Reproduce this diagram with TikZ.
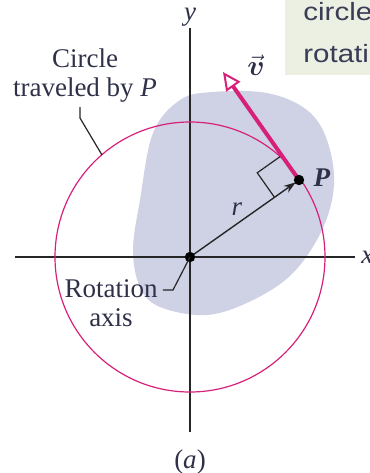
\documentclass[tikz,border=0pt]{standalone}
\usepackage{amsmath}
\usepackage{fontspec}
\setmainfont{Liberation Serif}
\newfontfamily\notefont{Liberation Sans}
\usetikzlibrary{arrows.meta,calc}
\definecolor{rim}{HTML}{D6207A}
\definecolor{body}{HTML}{CFD1E4}
\definecolor{ink}{HTML}{2E3148}
\definecolor{note}{HTML}{EBF0E3}
\definecolor{notetext}{HTML}{3A3D55}

\begin{document}
\begin{tikzpicture}[x=0.5pt,y=-0.5pt,
    lbl/.style={text=ink,font=\fontsize{13.5}{14.5}\selectfont,inner sep=0pt},
    notelbl/.style={text=notetext,font=\notefont\fontsize{12.5}{12.5}\selectfont,anchor=base west,inner sep=0pt},
    axisline/.style={line width=1pt,black!85},
    leader/.style={line width=0.6pt,black!85},
    vel/.style={line width=2pt,rim,-{Triangle[open,fill=white,length=9pt,width=8.5pt,line width=1pt]}}]
    \useasboundingbox (0,0) rectangle (370,473);
    \fill[note] (285,0) rectangle (370,75);
    \begin{scope}
    \clip (285,0) rectangle (370,75);
    \node[notelbl] (boxa) at (303,20) {\scalebox{1.18}[1]{circle}};
    \node[notelbl] (boxb) at (303,62) {\scalebox{1.18}[1]{rotati}};
    \end{scope}
    \fill[body] plot[smooth cycle,tension=0.6] coordinates {(140,200) (153,133) (180,100) (213,92) (267,93) (307,110) (327,140) (334,185) (322,230) (293,273) (253,300) (207,315) (160,307) (140,287) (133,250)};
    \coordinate (O) at (190,257);
    \coordinate (P) at (299,180);
    \coordinate (vtip) at (223,72);
    \coordinate (ytop) at (190,28);
    \coordinate (ybot) at (190,432);
    \coordinate (xleft) at (15,257);
    \coordinate (xright) at (355,257);
    \draw[axisline] (ytop) -- (ybot);
    \draw[axisline] (xleft) -- (xright);
    \draw[rim,line width=0.6pt] (O) circle [radius=67.5pt];
    \draw[leader] ($(P)!15pt!(vtip)$) -- ($($(P)!15pt!(vtip)$)+($(P)!15pt!(O)$)-(P)$) -- ($(P)!15pt!(O)$);
    \draw[leader,line width=0.7pt,-{Stealth[length=6pt,width=4pt]},shorten >=2pt] (O) -- (P);
    \draw[vel] (P) -- (vtip);
    \fill[black] (O) circle (2.6pt);
    \fill[black] (P) circle (2.6pt);
    \node[lbl] (ylbl) at (190,17) {\textit{y}};
    \begin{scope}
    \clip (0,0) rectangle (370,473);
    \node[lbl,anchor=west] (xlbl) at (361,257) {\textit{x}};
    \end{scope}
    \node[lbl] (rlbl) at (237,209) {\textit{r}};
    \node[lbl] (plbl) at (322,178) {\textbf{\textit{P}}};
    \node[lbl] (vlbl) at (256,65) {$\vec{\boldsymbol{v}}$};
    \node[lbl,align=center] (cirlbl) at (85,76) {Circle\\traveled by \textit{P}};
    \coordinate (c1) at (80,107);
    \coordinate (c2) at (80,118);
    \coordinate (c3) at (102,155);
    \draw[leader] (c1) -- (c2) -- (c3);
    \node[lbl,align=center] (axlbl) at (111,303) {Rotation\\axis};
    \coordinate (a1) at (163,290);
    \coordinate (a2) at (173,290);
    \draw[leader] (a1) -- (a2) -- (O);
    \node[lbl] (cap) at (190,462) {(\textit{a})};
\end{tikzpicture}
\end{document}
